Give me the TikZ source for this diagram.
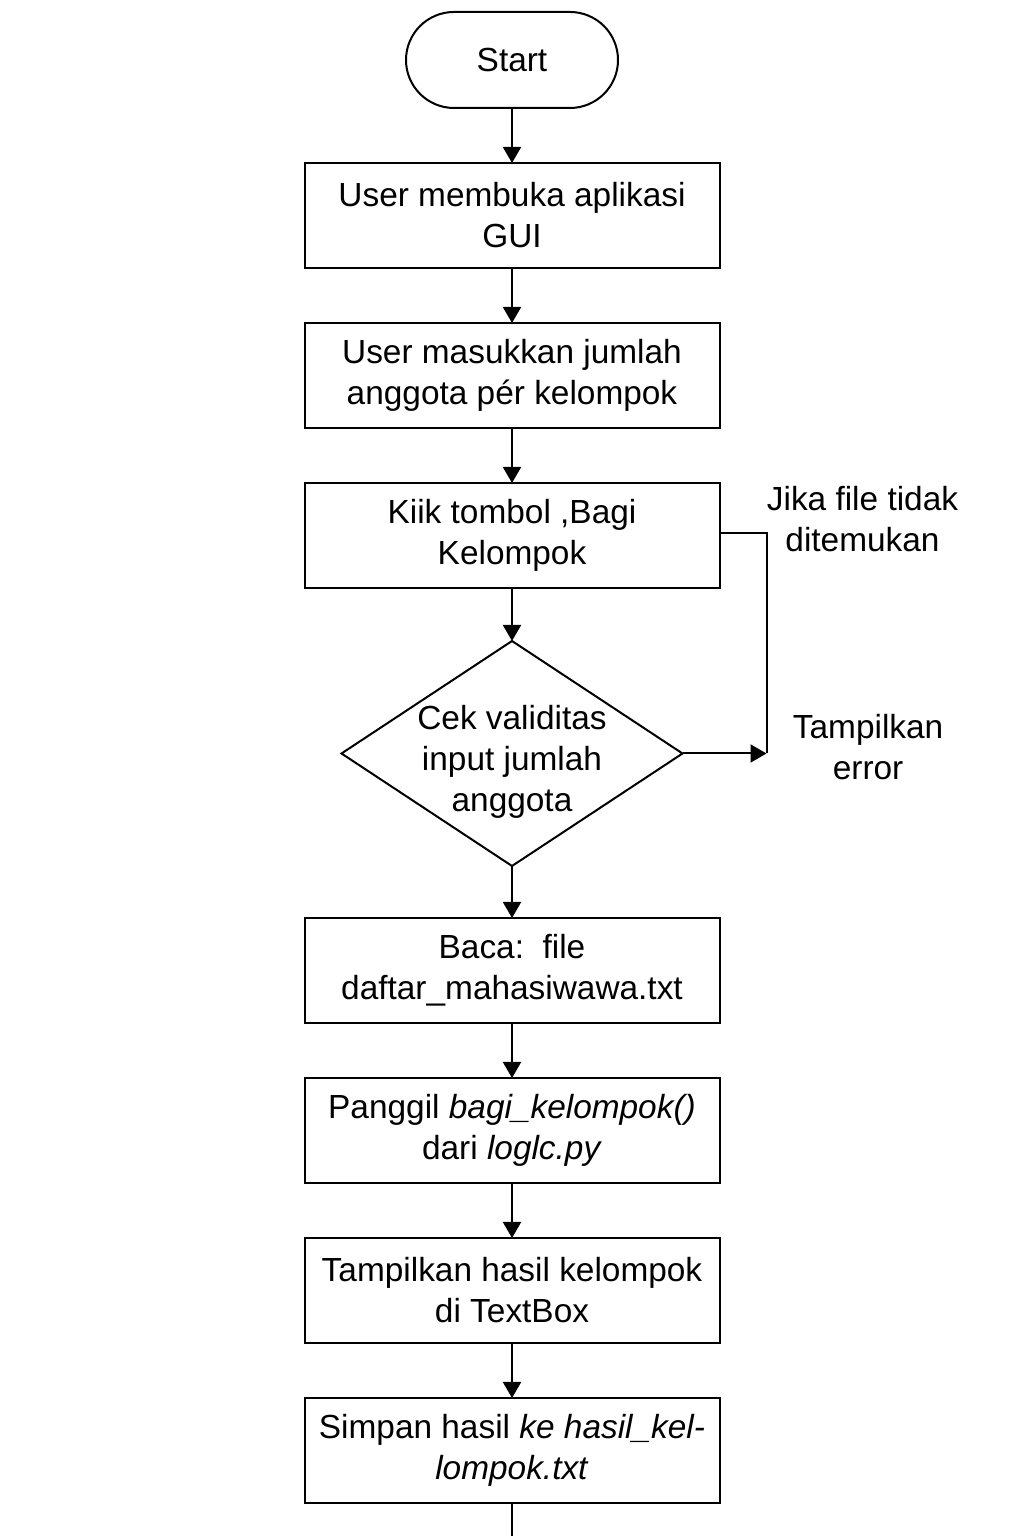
\documentclass[tikz,border=0pt]{standalone}
\usepackage{fontspec}
\setmainfont{Liberation Sans}
\usetikzlibrary{arrows.meta,positioning,shapes.geometric}
\newcommand{\flowfont}{\fontsize{16.7}{20.5}\selectfont}
\tikzset{
  terminal/.style={rectangle,rounded corners=24pt,draw,line width=1pt,outer sep=0pt,minimum width=106pt,minimum height=48pt,font=\flowfont},
  process/.style={rectangle,draw,line width=1pt,outer sep=0pt,align=center,minimum width=207.5pt,minimum height=52.5pt,inner sep=2pt,font=\flowfont},
  decision/.style={diamond,draw,line width=1pt,outer sep=0pt,align=center,aspect=1.52,inner sep=-5pt,text height=62pt,text depth=3.5pt,minimum width=170.5pt,minimum height=112.5pt,font=\flowfont},
  arrow/.style={-{Triangle[length=8pt,width=9pt]},line width=1pt},
  link/.style={line width=1pt},
  sidenote/.style={align=center,inner sep=0pt,font=\flowfont}
}

\begin{document}
\begin{tikzpicture}[node distance=27.5pt]
    \useasboundingbox (0pt,0pt) rectangle (512pt,768pt);
    \node[terminal] (start) at (256pt,738pt) {Start};
    \node[process,below=of start] (open) {User membuka aplikasi\\GUI};
    \node[process,below=of open] (input) {User masukkan jumlah\\anggota pér kelompok};
    \node[process,below=of input] (click) {Kiik tombol ,Bagi\\Kelompok};
    \node[decision,below=26.5pt of click] (check) {Cek validitas\\input jumlah\\anggota};
    \node[process,below=26pt of check] (read) {Baca:\ \ file\\daftar\_mahasiwawa.txt};
    \node[process,below=of read] (call) {Panggil \textit{bagi\_kelompok()}\\dari \textit{loglc.py}};
    \node[process,below=of call] (show) {Tampilkan hasil kelompok\\di TextBox};
    \node[process,below=of show] (save) {Simpan hasil \textit{ke hasil\_kel-}\\\textit{lompok.txt}};
    \coordinate[below=of save] (next);

    \draw[arrow] (start) -- (open);
    \draw[arrow] (open) -- (input);
    \draw[arrow] (input) -- (click);
    \draw[arrow] (click) -- (check);
    \draw[arrow] (check) -- (read);
    \draw[arrow] (read) -- (call);
    \draw[arrow] (call) -- (show);
    \draw[arrow] (show) -- (save);
    \draw[arrow] (save) -- (next);

    % error branch on the right
    \coordinate[right=23.5pt of click.east,yshift=1pt] (turn);
    \coordinate (hit) at (turn |- check.east);
    \draw[link] (click.east |- turn) -- (turn) -- (hit);
    \draw[arrow] (check.east) -- (hit);
    \node[sidenote,right=0pt of turn,yshift=7pt] (notfound) {Jika file tidak\\ditemukan};
    \node[sidenote,right=13pt of hit,yshift=3pt] (error) {Tampilkan\\error};
  \end{tikzpicture}
\end{document}
